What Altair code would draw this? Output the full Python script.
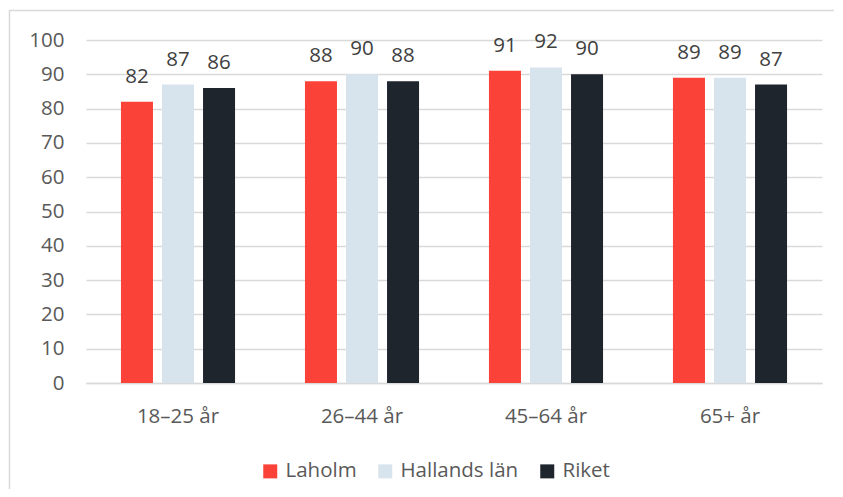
import altair as alt
import pandas as pd

groups = ["18–25 år", "26–44 år", "45–64 år", "65+ år"]
series = ["Laholm", "Hallands län", "Riket"]
laholm = [82, 88, 91, 89]
hallands = [87, 90, 92, 89]
riket = [86, 88, 90, 87]
colors = ["#FB4239", "#D7E4EE", "#1F252D"]

rows = []
for name, vals in zip(series, [laholm, hallands, riket]):
    for g, v in zip(groups, vals):
        rows.append({"grupp": g, "serie": name, "varde": v})
df = pd.DataFrame(rows)

FONT = "Open Sans"
GRAY = "#595959"
FS = 20.5

x = alt.X("grupp:N", sort=groups, title=None,
          scale=alt.Scale(paddingInner=0.38, paddingOuter=0.19),
          axis=alt.Axis(labelAngle=0, labelFont=FONT, labelFontSize=FS, labelColor=GRAY,
                        ticks=False, tickSize=0, labelPadding=39, labelBaseline="alphabetic",
                        domainColor="#D9D9D9", domainWidth=1.5, grid=False))
xo = alt.XOffset("serie:N", sort=series, scale=alt.Scale(paddingInner=0.22, paddingOuter=0))
y = alt.Y("varde:Q", title=None,
          scale=alt.Scale(domain=[0, 100]),
          axis=alt.Axis(values=list(range(0, 101, 10)), labelFont=FONT, labelFontSize=FS,
                        labelColor=GRAY, ticks=False, tickSize=0, labelPadding=22, domain=False,
                        gridColor="#D9D9D9", gridWidth=1.5))
color = alt.Color("serie:N", sort=series,
                  scale=alt.Scale(domain=series, range=colors),
                  legend=alt.Legend(title=None, orient="none", legendX=174, legendY=421,
                                    direction="horizontal", symbolType="square",
                                    symbolSize=196, symbolStrokeWidth=0, labelFont=FONT,
                                    labelFontSize=FS, labelColor=GRAY, labelOffset=5,
                                    columnPadding=18))

one = pd.DataFrame({"a": [0]})
top_line = alt.Chart(one).mark_rule(stroke="#D9D9D9", strokeWidth=1.5).encode(
    x=alt.value(-77), x2=alt.value(900), y=alt.value(-29.5))
left_line = alt.Chart(one).mark_rule(stroke="#D9D9D9", strokeWidth=1.5).encode(
    x=alt.value(-76.5), y=alt.value(-30), y2=alt.value(700))

base = alt.Chart(df)
bars = base.mark_bar().encode(x=x, xOffset=xo, y=y, color=color)
labels = base.mark_text(font=FONT, fontSize=FS, color="#404040", baseline="alphabetic", dy=-19).encode(
    x=x, xOffset=xo, y=y, text=alt.Text("varde:Q"))

chart = alt.layer(top_line, left_line, bars, labels).properties(
    width=736, height=343,
    autosize=alt.AutoSizeParams(type="none"),
    padding={"left": 78, "top": 32, "right": 12, "bottom": 106},
).configure_view(stroke=None)

chart.save("out.html", embed_options={"renderer": "svg", "actions": False})
